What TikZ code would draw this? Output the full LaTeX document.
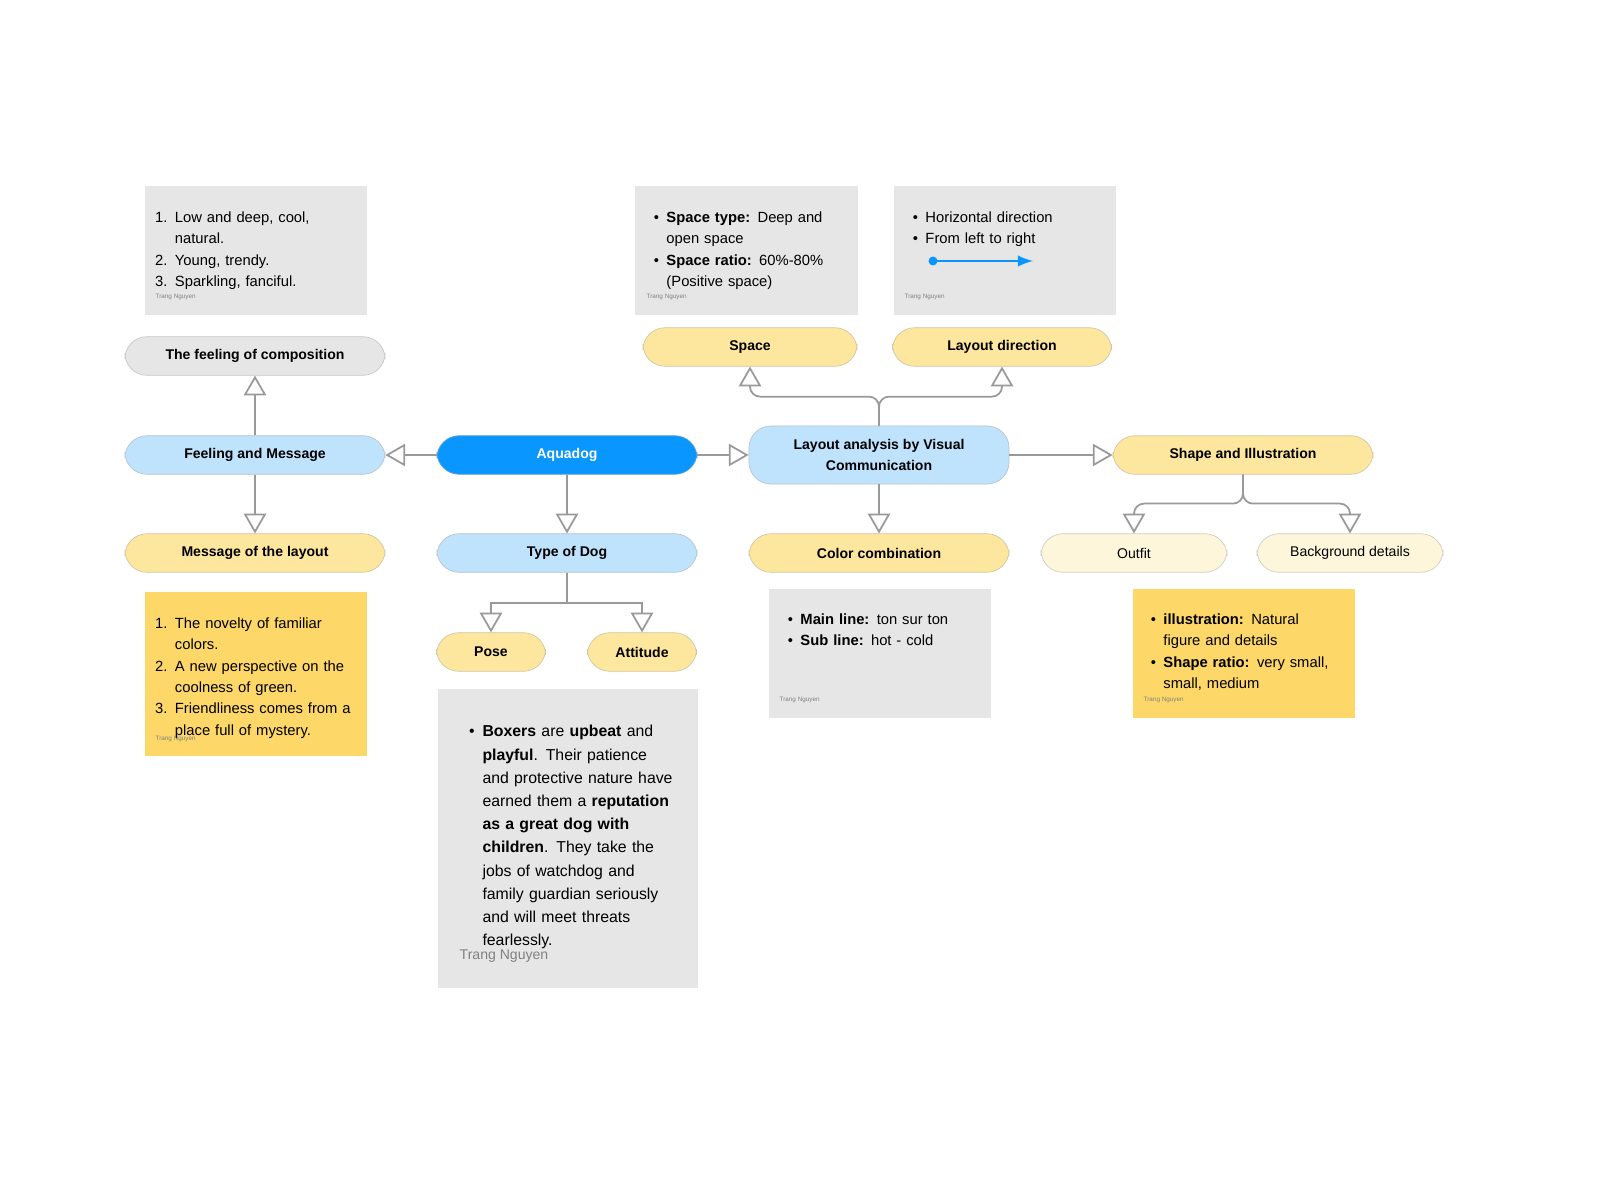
\documentclass[tikz,border=0pt]{standalone}
\usepackage{fontspec}
\setmainfont{Liberation Sans}
\usepackage{enumitem}
\usepackage{tikz}
\usetikzlibrary{positioning,calc,arrows}
\setlist{nosep,leftmargin=1.3em,labelsep=0.5em}
\definecolor{cblue}{HTML}{0A96FF}
\definecolor{lblue}{HTML}{BFE3FC}
\definecolor{lyel}{HTML}{FDE69D}
\definecolor{pyel}{HTML}{FDF6DA}
\definecolor{nyel}{HTML}{FDD868}
\definecolor{ngray}{HTML}{E6E6E6}
\definecolor{lgray}{HTML}{999999}
\newcommand{\sig}{\fontsize{1.8}{2}\selectfont\color{black!50}Trang Nguyen}
\tikzset{
  pill/.style={draw=#1!70!black!60, fill=#1, rounded corners=2.2mm, minimum height=1.1cm*0.35,
    font=\fontsize{4}{6}\selectfont\bfseries, align=center, line width=0.2pt},
  note/.style={fill=#1, anchor=north west, inner sep=0pt, minimum height=1.29cm},
  txt/.style={anchor=north west, inner sep=0pt, text width=#1, align=left,
    font=\fontsize{4.2}{6.1}\selectfont},
  sig/.style={anchor=south west, inner sep=0pt},
}
\begin{document}
\begin{tikzpicture}[x=0.01cm,y=-0.01cm,>=open triangle 60]
	\useasboundingbox (0,0) rectangle (1600,1200);
	% main nodes
	\node[pill=cblue, text=white, minimum width=2.6cm] (aqua) at (567,455) {Aquadog};
	\node[pill=lblue, minimum width=2.6cm] (feel) at (255,455) {Feeling and Message};
	\node[pill=ngray, minimum width=2.6cm] (comp) at (255,356) {The feeling of composition};
	\node[pill=lyel, minimum width=2.6cm] (msg) at (255,553) {Message of the layout};
	\node[pill=lblue, minimum width=2.6cm] (type) at (567,553) {Type of Dog};
	\node[pill=lyel, minimum width=1.09cm] (pose) at (491,652) {Pose};
	\node[pill=lyel, minimum width=1.09cm] (att) at (642,652) {Attitude};
	\node[pill=lblue, minimum width=2.6cm, minimum height=0.58cm] (lay) at (879,455) {Layout analysis by Visual\\Communication};
	\node[pill=lyel, minimum width=2.14cm] (space) at (750,347) {Space};
	\node[pill=lyel, minimum width=2.19cm] (dir) at (1002,347) {Layout direction};
	\node[pill=lyel, minimum width=2.6cm] (shape) at (1243,455) {Shape and Illustration};
	\node[pill=lyel, minimum width=2.6cm] (color) at (879,553) {Color combination};
	\node[pill=pyel, minimum width=1.86cm, font=\fontsize{4}{6}\selectfont] (outfit) at (1134,553) {Outfit};
	\node[pill=pyel, minimum width=1.86cm, font=\fontsize{4}{6}\selectfont] (bg) at (1350,553) {Background details};

	% notes
	\node[note=ngray, minimum width=2.22cm] (ncomp) at (144,185) {};
	\node[txt=1.9cm] at (158,200) {\begin{enumerate}[leftmargin=1.1em]
		\item Low and deep, cool, natural.
		\item Young, trendy.
		\item Sparkling, fanciful.\end{enumerate}};
	\node[sig] at (155,301) {\sig};

	\node[note=ngray, minimum width=2.23cm] (nspace) at (634,185) {};
	\node[txt=1.9cm] at (651,200) {\begin{itemize}[leftmargin=1.0em]
		\item \textbf{Space type:} Deep and open space
		\item \textbf{Space ratio:} 60\%-80\% (Positive space)\end{itemize}};
	\node[sig] at (646,301) {\sig};

	\node[note=ngray, minimum width=2.22cm] (ndir) at (893,185) {};
	\node[txt=1.9cm] at (910,200) {\begin{itemize}[leftmargin=1.0em]
		\item Horizontal direction
		\item From left to right\end{itemize}};
	\node[sig] at (904,301) {\sig};
	\fill[cblue] (933,261) circle (4.5);
	\coordinate (d1) at (933,261);
	\coordinate (d2) at (1033,261);
	\draw[cblue, line width=0.5pt, -latex] (d1) -- (d2);

	\node[note=nyel, minimum width=2.22cm, minimum height=1.64cm] (nmsg) at (144,591) {};
	\node[txt=1.95cm] at (158,606) {\begin{enumerate}[leftmargin=1.1em]
		\item The novelty of familiar colors.
		\item A new perspective on the coolness of green.
		\item Friendliness comes from a place full of mystery.\end{enumerate}};
	\node[sig] at (155,743) {\sig};

	\node[note=ngray, minimum width=2.6cm, minimum height=2.99cm] (ntype) at (437,688) {};
	\node[txt=2.1cm, font=\fontsize{4.5}{6.6}\selectfont] at (466,713) {\begin{itemize}[leftmargin=1.0em]
		\item \textbf{Boxers} are \textbf{upbeat} and \textbf{playful}. Their patience and protective nature have earned them a \textbf{reputation as a great dog with children}. They take the jobs of watchdog and family guardian seriously and will meet threats fearlessly.\end{itemize}};
	\node[sig, font=\fontsize{4}{5}\selectfont, text=black!50] at (459,963) {Trang Nguyen};

	\node[note=ngray, minimum width=2.22cm] (ncolor) at (768,588) {};
	\node[txt=1.9cm] at (785,602) {\begin{itemize}[leftmargin=1.0em]
		\item \textbf{Main line:} ton sur ton
		\item \textbf{Sub line:} hot - cold\end{itemize}};
	\node[sig] at (779,704) {\sig};

	\node[note=nyel, minimum width=2.22cm] (nshape) at (1132,588) {};
	\node[txt=1.9cm] at (1148,602) {\begin{itemize}[leftmargin=1.0em]
		\item \textbf{illustration:} Natural figure and details
		\item \textbf{Shape ratio:} very small, small, medium\end{itemize}};
	\node[sig] at (1143,704) {\sig};

	% connectors
	\path[->, draw=lgray, line width=0.5pt]
		(aqua) edge (feel)
		        edge (lay)
		        edge (type)
		(feel) edge (comp)
		        edge (msg)
		(lay)  edge (shape)
		        edge (color)
		;
	\draw[->, draw=lgray, line width=0.5pt] (type.south) -- ++(0,30) -| (pose.north);
	\draw[->, draw=lgray, line width=0.5pt] (type.south) -- ++(0,30) -| (att.north);
	\draw[->, draw=lgray, line width=0.5pt, rounded corners=1mm] (lay.north) -- ++(0,-29) -| (space.south);
	\draw[->, draw=lgray, line width=0.5pt, rounded corners=1mm] (lay.north) -- ++(0,-29) -| (dir.south);
	\draw[->, draw=lgray, line width=0.5pt, rounded corners=1mm] (shape.south) -- ++(0,29) -| (outfit.north);
	\draw[->, draw=lgray, line width=0.5pt, rounded corners=1mm] (shape.south) -- ++(0,29) -| (bg.north);
\end{tikzpicture}
\end{document}
